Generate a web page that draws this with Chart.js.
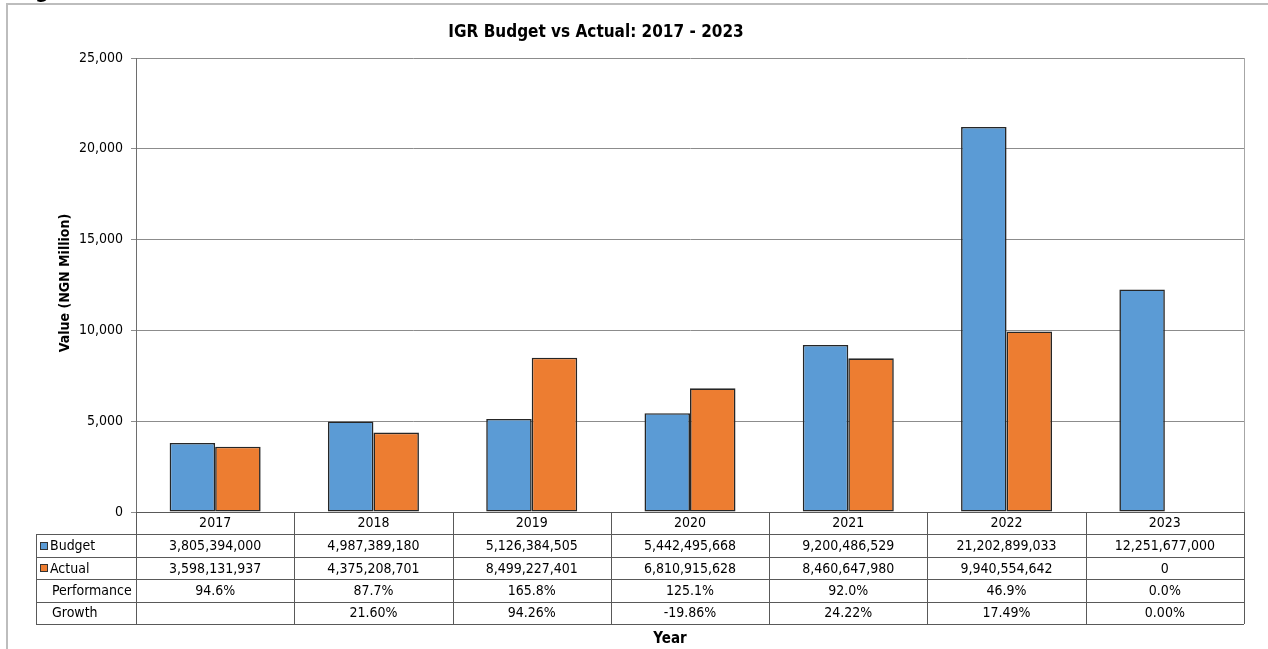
<!DOCTYPE html>
<html>
<head>
<meta charset="utf-8">
<title>IGR Budget vs Actual</title>
<script src="https://cdn.jsdelivr.net/npm/chart.js@4.4.0/dist/chart.umd.min.js"></script>
<style>
  html, body { margin: 0; padding: 0; background: #fff; }
  #wrap { width: 1268px; height: 649px; }
</style>
</head>
<body>
<div id="wrap"><canvas id="igrChart" width="1268" height="649"></canvas></div>
<script>
// IGR figures in naira, one entry per year
var years = ['2017', '2018', '2019', '2020', '2021', '2022', '2023'];
var budget = [3805394000, 4987389180, 5126384505, 5442495668, 9200486529, 21202899033, 12251677000];
var actual = [3598131937, 4375208701, 8499227401, 6810915628, 8460647980, 9940554642, 0];
var performance = ['94.6%', '87.7%', '165.8%', '125.1%', '92.0%', '46.9%', '0.0%'];
var growth = ['', '21.60%', '94.26%', '-19.86%', '24.22%', '17.49%', '0.00%'];
var yTicks = [0, 5000, 10000, 15000, 20000, 25000];

var FONT = '"DejaVu Sans Condensed", "DejaVu Sans", sans-serif';
var blue = '#5b9bd5';
var orange = '#ed7d31';

function toMillion(v) { return v / 1e6; }
function commas(n) { return Number(n).toLocaleString('en-US'); }

// data table under the plot, lined up with the x scale categories
var dataTable = {
  id: 'dataTable',
  afterDraw: function(chart) {
    var ctx = chart.ctx, xs = chart.scales.x, area = chart.chartArea;
    var rowH = 22.4, top = area.bottom, legendLeft = 36;
    var bottom = top + rowH * 5;
    var colW = (area.right - area.left) / years.length;
    var rows = [
      { label: 'Budget', swatch: blue, cells: budget.map(commas) },
      { label: 'Actual', swatch: orange, cells: actual.map(commas) },
      { label: 'Performance', cells: performance },
      { label: 'Growth', cells: growth }
    ];
    function px(v) { return Math.round(v) + 0.5; }

    ctx.save();
    // chart frame
    ctx.strokeStyle = '#bdbdbd';
    ctx.lineWidth = 2;
    ctx.beginPath();
    ctx.moveTo(7, 649); ctx.lineTo(7, 4); ctx.lineTo(1268, 4);
    ctx.stroke();

    // plot area right edge
    ctx.lineWidth = 1;
    ctx.strokeStyle = '#a6a6a6';
    ctx.beginPath();
    ctx.moveTo(px(area.right), area.top); ctx.lineTo(px(area.right), top);
    ctx.stroke();

    // table grid
    ctx.strokeStyle = '#595959';
    ctx.beginPath();
    ctx.moveTo(area.left, px(top)); ctx.lineTo(area.right, px(top));
    for (var r = 1; r <= 5; r++) {
      ctx.moveTo(legendLeft, px(top + rowH * r));
      ctx.lineTo(area.right, px(top + rowH * r));
    }
    for (var c = 0; c <= years.length; c++) {
      var ex = px(xs.getPixelForValue(c) - colW / 2);
      ctx.moveTo(ex, top); ctx.lineTo(ex, bottom);
    }
    ctx.moveTo(px(legendLeft), top + rowH); ctx.lineTo(px(legendLeft), bottom);
    ctx.stroke();

    // table text
    ctx.font = '14px ' + FONT;
    ctx.fillStyle = '#000';
    ctx.textBaseline = 'middle';
    rows.forEach(function(row, i) {
      var cy = top + rowH * (i + 1.5);
      ctx.textAlign = 'left';
      if (row.swatch) {
        ctx.fillStyle = row.swatch;
        ctx.fillRect(40, Math.round(cy) - 4, 8, 8);
        ctx.strokeStyle = '#333';
        ctx.strokeRect(40.5, Math.round(cy) - 3.5, 7, 7);
        ctx.fillStyle = '#000';
        ctx.fillText(row.label, 50, cy + 1);
      } else {
        ctx.fillText(row.label, 52, cy + 1);
      }
      ctx.textAlign = 'center';
      row.cells.forEach(function(txt, j) {
        ctx.fillText(txt, xs.getPixelForValue(j), cy + 1);
      });
    });

    // titles
    ctx.font = 'bold 17px ' + FONT;
    ctx.textAlign = 'center';
    ctx.fillText('IGR Budget vs Actual: 2017 - 2023', 596, 33);
    ctx.font = 'bold 15px ' + FONT;
    ctx.fillText('Year', 670, 639);
    ctx.save();
    ctx.translate(65, 283);
    ctx.rotate(-Math.PI / 2);
    ctx.font = 'bold 14px ' + FONT;
    ctx.fillText('Value (NGN Million)', 0, 0);
    ctx.restore();

    // heading text running off the top edge
    ctx.font = 'bold 22px ' + FONT;
    ctx.textAlign = 'left';
    ctx.textBaseline = 'alphabetic';
    ctx.fillText('g', 35, -2);
    ctx.restore();
  }
};

new Chart(document.getElementById('igrChart'), {
  type: 'bar',
  data: {
    labels: years,
    datasets: [{
      label: 'Budget',
      data: budget.map(toMillion),
      backgroundColor: blue,
      borderColor: '#262626',
      borderWidth: 1.6,
      borderSkipped: false,
      categoryPercentage: 0.575,
      barPercentage: 1
    }, {
      label: 'Actual',
      data: actual.map(toMillion),
      backgroundColor: orange,
      borderColor: '#262626',
      borderWidth: 1.6,
      borderSkipped: false,
      categoryPercentage: 0.575,
      barPercentage: 1
    }]
  },
  options: {
    responsive: false,
    devicePixelRatio: 1,
    animation: false,
    layout: { padding: { top: 58, right: 24, left: 0, bottom: 0 } },
    plugins: {
      legend: { display: false },
      title: { display: false },
      tooltip: { enabled: false }
    },
    scales: {
      x: {
        grid: { display: false, drawTicks: false },
        border: { display: false },
        ticks: {
          font: { family: FONT, size: 14 },
          color: '#000',
          padding: 3,
          maxRotation: 0,
          autoSkip: false
        },
        afterFit: function(s) { s.height = 137; }
      },
      y: {
        min: 0,
        max: 25000,
        afterBuildTicks: function(s) {
          s.ticks = yTicks.map(function(v) { return { value: v }; });
        },
        grid: { color: '#8c8c8c', tickLength: 5 },
        border: { color: '#6e6e6e' },
        ticks: {
          font: { family: FONT, size: 14 },
          color: '#000',
          padding: 8,
          callback: function(v) { return commas(v); }
        },
        afterFit: function(s) { s.width = 136; }
      }
    }
  },
  plugins: [dataTable]
});
</script>
</body>
</html>
